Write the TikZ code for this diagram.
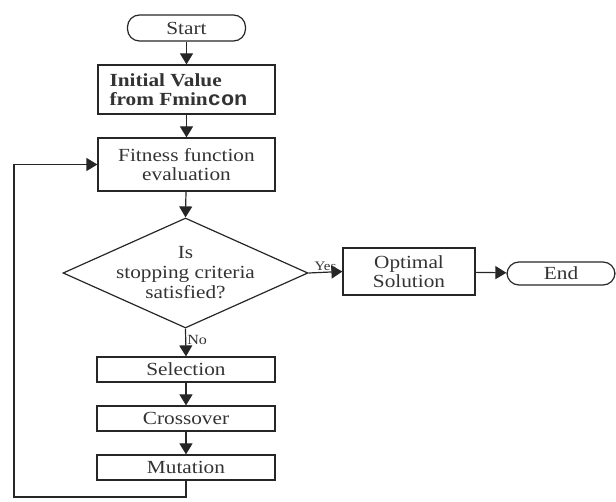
\documentclass[tikz,border=0pt]{standalone}
\usepackage{fontspec}
\setmainfont{Liberation Serif}[FakeStretch=1.15]
\newfontfamily\monob{Liberation Mono}[FakeStretch=1.1]
\usetikzlibrary{shapes.geometric,arrows.meta}
\begin{document}
\begin{tikzpicture}[x=1pt,y=-1pt,
  ln/.style={draw=black!85,line width=1.2pt},
  arr/.style={ln,-{Triangle[width=13pt,length=11pt]}},
  boxn/.style={ln,rectangle,inner sep=0pt,align=center,text=black!80,font=\fontsize{18.5}{18.5}\selectfont},
  term/.style={boxn,rounded corners=12pt},
  lbl/.style={inner sep=1pt,text=black!80}]
\useasboundingbox (0,0) rectangle (616,502);
\node[term,minimum width=118pt,minimum height=26pt] (start) at (186.5,28) {Start};
\node[boxn,minimum width=177pt,minimum height=49pt,align=left] (init) at (186.5,89.5)
  {\bfseries Initial Value\\ \bfseries from Fmin{\monob\bfseries\fontsize{20}{18.5}\selectfont con}\hspace*{16pt}};
\node[boxn,minimum width=177pt,minimum height=53pt] (fit) at (186.5,164.5) {Fitness function\\evaluation};
\node[ln,diamond,inner sep=0pt,minimum width=245pt,minimum height=110pt] (dec) at (185.5,273) {};
\node[boxn,draw=none,font=\fontsize{18.5}{20}\selectfont] (dect) at (dec.center) {Is\\stopping criteria\\satisfied?};
\node[boxn,minimum width=132pt,minimum height=47pt] (opt) at (409,271.5) {Optimal\\Solution};
\node[term,minimum width=108pt,minimum height=23pt] (endn) at (561,273.5) {End};
\node[boxn,minimum width=178pt,minimum height=25pt] (sel) at (186,369.5) {Selection};
\node[boxn,minimum width=178pt,minimum height=25pt] (cro) at (186,418.5) {Crossover};
\node[boxn,minimum width=178pt,minimum height=25pt] (mut) at (186,467.5) {Mutation};
\coordinate (c1) at (186,497);
\coordinate (c2) at (14,497);
\coordinate (c3) at (14,164.5);
\draw[arr] (start) -- (init);
\draw[arr] (init) -- (fit);
\draw[arr] (fit) -- (dec.north);
\draw[arr] (dec.east) -- node[lbl,above,font=\fontsize{13}{13}\selectfont] (yes) {Yes} (opt.west);
\draw[arr] (opt) -- (endn);
\draw[arr] (dec.south) -- node[lbl,right,pos=0.4,font=\fontsize{14}{14}\selectfont] (no) {No} (sel.north);
\draw[arr] (sel) -- (cro);
\draw[arr] (cro) -- (mut);
\draw[arr] (mut.south) -- (c1) -- (c2) -- (c3) -- (fit.west);
\end{tikzpicture}
\end{document}
